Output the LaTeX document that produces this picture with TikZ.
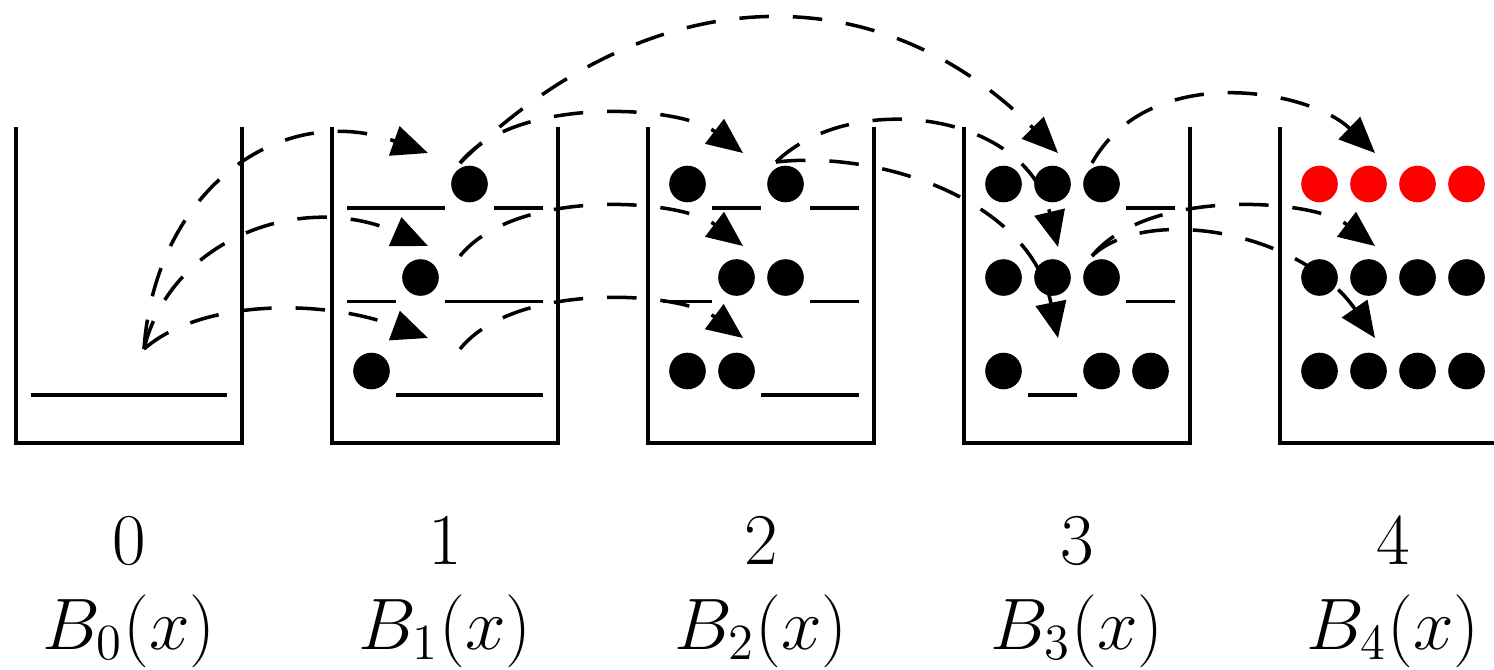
\documentclass[tikz,border=0pt]{standalone}
\usetikzlibrary{arrows.meta}
\begin{document}
\begin{tikzpicture}[x=0.01cm,y=-0.01cm,
  wall/.style={line width=1.15pt, line cap=butt, line join=miter},
  slotline/.style={line width=1.1pt},
  dot/.style={circle, fill=black, draw=none, inner sep=0pt, minimum size=0.366cm},
  reddot/.style={dot, fill=red},
  link/.style={line width=1pt, dash pattern=on 8.4pt off 6.8pt,
    -{Triangle[length=10.2pt,width=8.7pt]}},
  lbl/.style={anchor=base, inner sep=0pt, font=\fontsize{20.7}{25}\selectfont}]
\useasboundingbox (0,0) rectangle (1494,669);
\clip (0,0) rectangle (1494,669);

% buckets and labels
\foreach \b in {0,...,4}{
  \pgfmathsetmacro\L{16+316*\b}
  \draw[wall] (\L,127) -- (\L,443) -- ({\L+226},443) -- ({\L+226},127);
  \node[lbl] (num\b) at ({\L+113},564) {$\b$};
  \node[lbl] (lab\b) at ({\L+113},649) {$B_{\b}(x)$};
}

% empty slots
\foreach \b/\r/\k in {0/3/1,0/3/2,0/3/3,0/3/4,
  1/1/1,1/1/2,1/1/4, 1/2/1,1/2/3,1/2/4, 1/3/2,1/3/3,1/3/4,
  2/1/2,2/1/4, 2/2/1,2/2/4, 2/3/3,2/3/4,
  3/1/4, 3/2/4, 3/3/2}
  \draw[slotline] ({16+316*\b+15+49*(\k-1)},{208+93.5*(\r-1)}) -- ++(49,0);

% filled slots
\foreach \b/\r/\k in {1/1/3, 1/2/2, 1/3/1,
  2/1/1, 2/1/3, 2/2/2, 2/2/3, 2/3/1, 2/3/2,
  3/1/1, 3/1/2, 3/1/3, 3/2/1, 3/2/2, 3/2/3, 3/3/1, 3/3/3, 3/3/4,
  4/2/1, 4/2/2, 4/2/3, 4/2/4, 4/3/1, 4/3/2, 4/3/3, 4/3/4}
  \node[dot] (d\b\r\k) at ({16+316*\b+39.5+49*(\k-1)},{184+93.5*(\r-1)}) {};
\foreach \k in {1,...,4}
  \node[reddot] (d41\k) at ({1280+39.5+49*(\k-1)},184) {};

% connector ends
\coordinate (s03) at (144,349);
\coordinate (s11) at (460,163);
\coordinate (s12) at (460,256);
\coordinate (s13) at (460,349);
\coordinate (s21) at (776,162);
\coordinate (s31) at (1092,163);
\coordinate (s32) at (1092,256);
\coordinate (t11) at (428,153);
\coordinate (t12) at (428,246);
\coordinate (t13) at (428,338);
\coordinate (t21) at (743,153);
\coordinate (t22) at (743,246);
\coordinate (t23) at (743,338);
\coordinate (t31) at (1058,153);
\coordinate (t32) at (1058,247);
\coordinate (t33) at (1058,338);
\coordinate (t41) at (1375,153);
\coordinate (t42) at (1375,246);
\coordinate (t43) at (1375,338);

% connectors
\draw[link] (s03) .. controls (155,190) and (280,100) .. (t11);
\draw[link] (s03) .. controls (170,240) and (300,190) .. (t12);
\draw[link] (s03) .. controls (200,300) and (320,298) .. (t13);
\draw[link] (s11) .. controls (646,-21) and (874,-31) .. (t31);
\draw[link] (s11) .. controls (515,95) and (680,105) .. (t21);
\draw[link] (s12) .. controls (515,188) and (680,198) .. (t22);
\draw[link] (s13) .. controls (515,281) and (680,291) .. (t23);
\draw[link] (s21) .. controls (850,90) and (1025,110) .. (t32);
\draw[link] (s21) .. controls (880,150) and (1030,200) .. (t33);
\draw[link] (s31) .. controls (1150,60) and (1310,90) .. (t41);
\draw[link] (s32) .. controls (1147,188) and (1312,198) .. (t42);
\draw[link] (s32) .. controls (1145,205) and (1300,230) .. (t43);
\end{tikzpicture}
\end{document}
